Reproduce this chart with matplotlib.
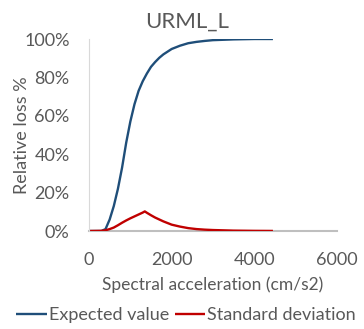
import matplotlib
matplotlib.use("Agg")
import matplotlib.pyplot as plt
from matplotlib.ticker import FuncFormatter

plt.rcParams['font.family'] = ['Lato', 'DejaVu Sans']

accel = [0, 300, 400, 500, 600, 700, 800, 900, 1000, 1100, 1200, 1300, 1350,
         1400, 1500, 1600, 1700, 1800, 2000, 2200, 2400, 2600, 2800, 3000,
         3500, 4000, 4450]
expected = [0, 0, 1, 6, 13, 22, 33, 46, 57, 66, 73, 78, 80,
            82, 85.5, 88, 90.2, 92, 94.8, 96.5, 97.8, 98.5, 99, 99.4,
            99.8, 100, 100]
stddev = [0, 0.1, 0.4, 1.0, 1.8, 3.0, 4.3, 5.5, 6.6, 7.6, 8.6, 9.6, 10.2,
          9.5, 8.2, 7.0, 6.0, 5.0, 3.3, 2.3, 1.5, 1.0, 0.7, 0.5,
          0.2, 0.08, 0.03]

title = "URML_L"
xlabel = "Spectral acceleration (cm/s2)"
ylabel = "Relative loss %"
xticks = [0, 2000, 4000, 6000]
yticks = [0, 0.2, 0.4, 0.6, 0.8, 1.0]

txt = '#595959'
fig = plt.figure(figsize=(3.64, 3.29), dpi=100)
ax = fig.add_axes([89/364, 1-231/329, (337-89)/364, (231-39)/329])

ax.plot(accel, [v/100 for v in expected], color='#1f4e79', lw=1.7, label='Expected value', solid_capstyle='butt')
ax.plot(accel, [v/100 for v in stddev], color='#c00000', lw=1.7, label='Standard deviation', solid_capstyle='butt')

ax.set_xlim(0, 6000)
ax.set_ylim(0, 1.0)
ax.set_xticks(xticks)
ax.set_yticks(yticks)
ax.yaxis.set_major_formatter(FuncFormatter(lambda v, p: f"{v*100:.0f}%"))
ax.tick_params(length=0, labelsize=13, colors=txt)
ax.tick_params(axis='x', pad=15)
ax.tick_params(axis='y', pad=14)
for s in ['top', 'right']:
    ax.spines[s].set_visible(False)
ax.spines['left'].set_color('#d9d9d9')
ax.spines['left'].set_linewidth(0.8)
ax.spines['bottom'].set_color('#bfbfbf')
ax.spines['bottom'].set_linewidth(1.5)
ax.spines['bottom'].set_zorder(0)

fig.text(187/364, 1-22/329, title, fontsize=16, color=txt, ha='center', va='center')
ax.set_xlabel(xlabel, fontsize=12.5, color=txt, labelpad=6)
ax.set_ylabel(ylabel, fontsize=13, color=txt, labelpad=-4)

fig.legend(loc='center', bbox_to_anchor=(186/364, 1-315/329), ncol=2, frameon=False,
           fontsize=13, handlelength=1.7, handletextpad=0.1, columnspacing=0.3,
           labelcolor=txt)

fig.savefig('out.png', dpi=100)
